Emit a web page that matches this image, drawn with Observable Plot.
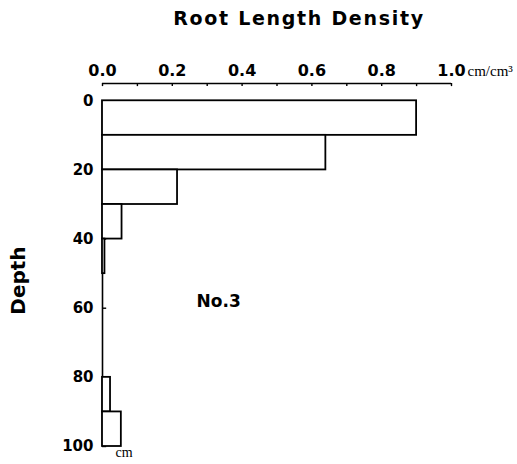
<!DOCTYPE html>
<html>
<head>
<meta charset="utf-8">
<script src="https://cdn.jsdelivr.net/npm/d3@7"></script>
<script src="https://cdn.jsdelivr.net/npm/@observablehq/plot@0.6"></script>
<style>
  html, body { margin: 0; padding: 0; background: #fff; }
  #wrap { position: relative; width: 517px; height: 464px; overflow: hidden; }
  #title { position: relative; height: 45px; }
  #title span { position: absolute; left: 299px; top: 7px; transform: translateX(-50%);
    font-family: "DejaVu Sans"; font-weight: bold; font-size: 19px; letter-spacing: 1.7px; white-space: nowrap; color: #000; }
  svg { display: block; }
</style>
</head>
<body>
<div id="wrap">
  <div id="title"><span>Root Length Density</span></div>
  <div id="chart"></div>
</div>
<script>
// Depth intervals (cm) and root length density (cm/cm³)
const depthTop    = [0, 10, 20, 30, 40, 50, 60, 70, 80, 90];
const depthBottom = [10, 20, 30, 40, 50, 60, 70, 80, 90, 100];
const rld         = [0.90, 0.64, 0.215, 0.056, 0.007, 0, 0, 0, 0.023, 0.054];

const xTickMarks  = [0, 0.1, 0.2, 0.3, 0.4, 0.5, 0.6, 0.7, 0.8, 0.9, 1.0];
const xTickLabels = [0, 0.2, 0.4, 0.6, 0.8, 1.0];
const yTicks      = [0, 20, 40, 60, 80, 100];
const xDomain = [0, 1];
const yDomain = [-5, 100];

const title = "Root Length Density";
const yTitle = "Depth";
const xUnit = "cm/cm³";
const yUnit = "cm";
const panelLabel = "No.3";

const data = depthTop.map((t, i) => ({top: t, bottom: depthBottom[i], value: rld[i]}));

const plot = Plot.plot({
  width: 517,
  height: 419,
  marginLeft: 102,
  marginRight: 66,
  marginTop: 38,
  marginBottom: 18,
  style: {fontFamily: "DejaVu Sans", fontWeight: "bold", fontSize: "16px", color: "#000", background: "#fff", overflow: "visible"},
  x: {domain: xDomain, axis: null},
  y: {domain: yDomain, reverse: true, axis: null},
  marks: [
    // top axis line
    Plot.ruleY([yDomain[0]], {x1: xDomain[0], x2: xDomain[1], stroke: "#000", strokeWidth: 1.6}),
    // inward tick marks on the top axis
    Plot.ruleX(xTickMarks, {y1: yDomain[0], y2: yDomain[0] + 0.9, stroke: "#000", strokeWidth: 1.4}),
    Plot.axisX(xTickLabels, {anchor: "top", tickSize: 0, tickPadding: 8, tickFormat: d3.format(".1f"), fontSize: 16, label: null}),
    // unit next to 1.0
    Plot.text([{x: xDomain[1], y: yDomain[0]}], {x: "x", y: "y", text: () => xUnit, dx: 16, dy: -12,
      textAnchor: "start", fontFamily: "Liberation Serif", fontWeight: "normal", fontSize: 15}),
    // y axis inward ticks and labels
    Plot.ruleY(yTicks, {x1: xDomain[0], x2: 0.012, stroke: "#000", strokeWidth: 1.4}),
    Plot.axisY(yTicks, {anchor: "left", tickSize: 0, tickPadding: 9, fontSize: 15, label: null}),
    Plot.text([{x: xDomain[0], y: 100}], {x: "x", y: "y", text: () => yUnit, dx: 13, dy: 6,
      textAnchor: "start", fontFamily: "Liberation Serif", fontWeight: "normal", fontSize: 14}),
    // left line
    Plot.ruleX([xDomain[0]], {y1: 0, y2: 100, stroke: "#000", strokeWidth: 1.6}),
    // bars
    Plot.rectX(data, {x1: 0, x2: "value", y1: "top", y2: "bottom", fill: "#fff", stroke: "#000", strokeWidth: 1.8}),
    // depth title
    Plot.text([{x: -0.24, y: 52}], {x: "x", y: "y", text: () => yTitle, rotate: -90, fontSize: 20, fontWeight: "bold"}),
    // panel label
    Plot.text([{x: 0.333, y: 58}], {x: "x", y: "y", text: () => panelLabel, fontSize: 17, fontWeight: "bold", letterSpacing: 1.5})
  ]
});
document.getElementById("chart").appendChild(plot);
</script>
</body>
</html>
